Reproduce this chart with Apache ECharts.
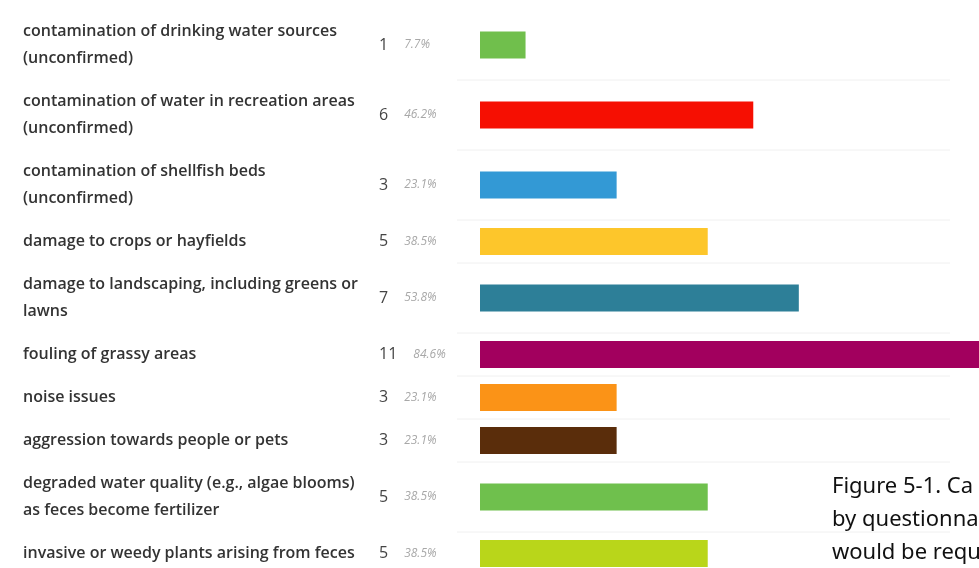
<!DOCTYPE html>
<html><head><meta charset="utf-8">
<script src="https://cdn.jsdelivr.net/npm/echarts@6/dist/echarts.min.js"></script>
<style>html,body{margin:0;padding:0;background:#fff}#c{width:979px;height:568px}</style>
</head><body><div id="c"></div>
<script>
const categories = [
  "contamination of drinking water sources\n(unconfirmed)",
  "contamination of water in recreation areas\n(unconfirmed)",
  "contamination of shellfish beds\n(unconfirmed)",
  "damage to crops or hayfields",
  "damage to landscaping, including greens or\nlawns",
  "fouling of grassy areas",
  "noise issues",
  "aggression towards people or pets",
  "degraded water quality (e.g., algae blooms)\nas feces become fertilizer",
  "invasive or weedy plants arising from feces"
];
const counts = [1, 6, 3, 5, 7, 11, 3, 3, 5, 5];
const percents = ["7.7%", "46.2%", "23.1%", "38.5%", "53.8%", "84.6%", "23.1%", "23.1%", "38.5%", "38.5%"];
const colors = ["#70bf4c", "#f60f02", "#3399d5", "#fdc62b", "#2d7f98", "#a2005e", "#fb9317", "#5a2d0b", "#6fc04d", "#b9d61a"];
const caption = ["Figure 5-1. Ca", "by questionna", "would be requ"];

// row layout: each row's height depends on its number of text lines
const LINE = 27, PAD = 16;
let acc = 0;
const rows = categories.map((c, i) => {
  const lines = c.split("\n").length;
  const h = PAD + LINE * lines;
  const r = { start: acc, center: acc + h / 2, end: acc + h };
  acc += h;
  return r;
});
const total = acc;

const data = counts.map((v, i) => [v, rows[i].center, i, rows[i].end]);

const chart = echarts.init(document.getElementById('c'), null, { renderer: 'canvas' });
chart.setOption({
  backgroundColor: '#ffffff',
  animation: false,
  grid: { left: 480, top: 10, width: 501, height: total, outerBoundsMode: 'none', containLabel: false },
  xAxis: { type: 'value', min: 0, max: 11, show: false },
  yAxis: { type: 'value', min: 0, max: total, inverse: true, show: false },
  series: [{
    type: 'custom',
    clip: false,
    data: data,
    encode: { x: 0, y: 1 },
    renderItem: function (params, api) {
      const idx = api.value(2);
      const p0 = api.coord([0, api.value(1)]);
      const p1 = api.coord([api.value(0), api.value(1)]);
      const sepY = api.coord([0, api.value(3)])[1];
      const bh = 27;
      const children = [];
      if (idx < categories.length - 1) {
        children.push({
          type: 'line',
          shape: { x1: p0[0] - 23, y1: sepY, x2: 950, y2: sepY },
          style: { stroke: '#f0f0f0', lineWidth: 1 }
        });
      }
      children.push({
        type: 'rect',
        shape: { x: p0[0], y: p0[1] - bh / 2, width: p1[0] - p0[0], height: bh },
        style: { fill: colors[idx] }
      });
      children.push({
        type: 'text',
        x: 23, y: p0[1],
        style: {
          text: categories[idx],
          font: '600 16px "Open Sans"',
          fill: '#333333',
          lineHeight: 27,
          verticalAlign: 'middle',
          align: 'left'
        }
      });
      children.push({
        type: 'text',
        x: 379, y: p0[1],
        style: {
          text: '{n|' + counts[idx] + '}{p|' + percents[idx] + '}',
          verticalAlign: 'middle',
          align: 'left',
          rich: {
            n: { font: '16px "Open Sans"', fill: '#444444' },
            p: { font: 'italic 12px "Open Sans"', fill: '#a8a8a8', padding: [0, 0, 0, 16] }
          }
        }
      });
      return { type: 'group', children: children };
    }
  }],
  graphic: caption.map((t, i) => ({
    type: 'text',
    x: 832,
    y: 487 + i * 33,
    style: { text: t, font: '22px "Noto Sans"', fill: '#111111', verticalAlign: 'middle' }
  }))
});
</script>
</body></html>
